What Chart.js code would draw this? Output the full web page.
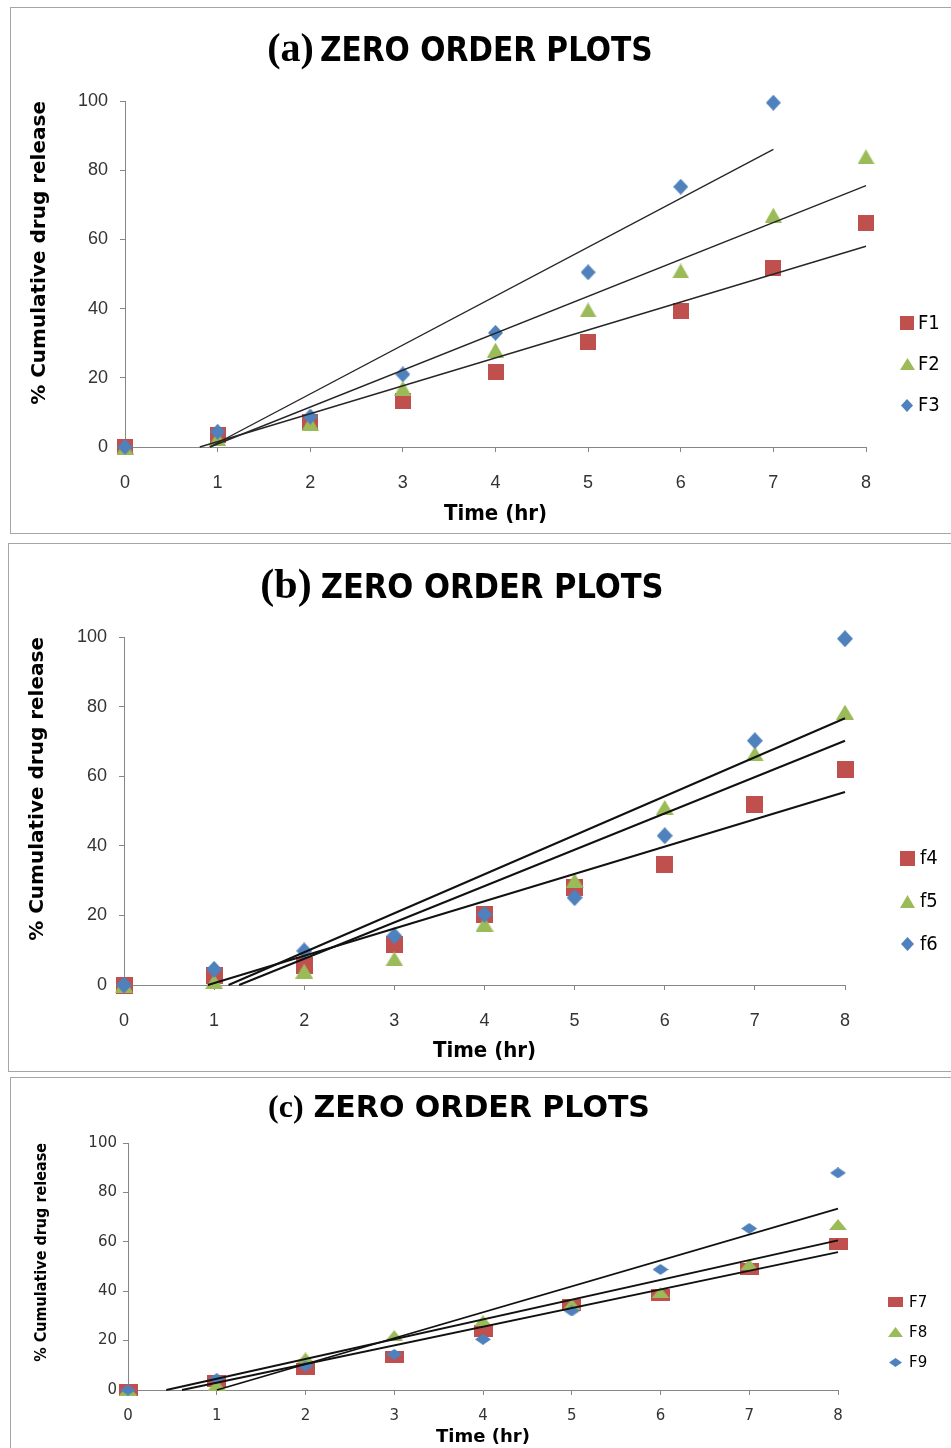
<!DOCTYPE html>
<html>
<head>
<meta charset="utf-8">
<title>Zero order plots</title>
<script src="https://cdn.jsdelivr.net/npm/chart.js@4.4.0/dist/chart.umd.min.js"></script>
<style>
	body { margin: 0; background: #fff; width: 951px; height: 1448px; overflow: hidden; position: relative; }
	.panel { position: absolute; border: 1px solid #a6a6a6; box-sizing: border-box; background: #fff; }
	.panel canvas { position: absolute; left: 0; top: 0; }
</style>
</head>
<body>
<div class="panel" style="left:10px;top:7px;width:945px;height:527px"><canvas id="chartA" width="939" height="525"></canvas></div>
<div class="panel" style="left:8px;top:543px;width:948px;height:529px"><canvas id="chartB" width="942" height="527"></canvas></div>
<div class="panel" style="left:10px;top:1077px;width:945px;height:380px"><canvas id="chartC" width="940" height="370"></canvas></div>
<script>
// tiempos de muestreo (hr)
const timeHr = [0, 1, 2, 3, 4, 5, 6, 7, 8];
const yTicks = [0, 20, 40, 60, 80, 100];

// (a) % liberación acumulada
const f1Release = [0, 3.4, 7.3, 13.4, 21.8, 30.4, 39.3, 51.6, 64.6];
const f2Release = [0, 2.5, 6.9, 17, 28, 39.6, 50.9, 67, 83.9];
const f3Release = [0, 4.4, 8.8, 21, 33, 50.5, 75.2, 99.5]; // sin punto a 8 hr

// (b)
const f4Release = [0, 2.6, 5.5, 11.7, 20.3, 28, 34.7, 52, 62];
const f5Release = [0, 1, 4, 7.5, 17.5, 30, 51, 66.4, 78.4];
const f6Release = [0, 4.5, 9.8, 14.1, 20.3, 25.1, 42.9, 70.2, 99.5];

// (c)
const f7Release = [0, 3.6, 8.6, 13.5, 24, 34.4, 38.4, 48.8, 59.3];
const f8Release = [0, 2, 13, 22, 28, 34.7, 39.4, 50.8, 67];
const f9Release = [0, 4.6, 9.7, 14.4, 20.5, 32, 48.8, 65.4, 87.9];

const RED = '#C0504D';
const GREEN = '#9BBB59';
const BLUE = '#4F81BD';

const NARROW = '"Liberation Sans Narrow", "DejaVu Sans Condensed", "Liberation Sans", sans-serif';
const SANS = '"Liberation Sans", Arial, sans-serif';
const VERD = '"DejaVu Sans", Verdana, sans-serif';
const SERIF = '"Liberation Serif", "DejaVu Serif", serif';

// marcador dibujado en un canvas pequeño (permite ancho y alto distintos)
function makeMarker(shape, w, h, color) {
	const c = document.createElement('canvas');
	c.width = w;
	c.height = h;
	const g = c.getContext('2d');
	g.fillStyle = color;
	g.beginPath();
	if (shape === 'square') {
		g.rect(0, 0, w, h);
	} else if (shape === 'triangle') {
		g.moveTo(w / 2, 0);
		g.lineTo(w, h);
		g.lineTo(0, h);
	} else {
		g.moveTo(w / 2, 0);
		g.lineTo(w, h / 2);
		g.lineTo(w / 2, h);
		g.lineTo(0, h / 2);
	}
	g.closePath();
	g.fill();
	return c;
}

// recta de mínimos cuadrados, recortada en y = 0
function trendPoints(ys) {
	const xs = timeHr.slice(0, ys.length);
	const n = ys.length;
	const mx = xs.reduce((a, b) => a + b, 0) / n;
	const my = ys.reduce((a, b) => a + b, 0) / n;
	let sxy = 0;
	let sxx = 0;
	for (let i = 0; i < n; i++) {
		sxy += (xs[i] - mx) * (ys[i] - my);
		sxx += (xs[i] - mx) * (xs[i] - mx);
	}
	const m = sxy / sxx;
	const b = my - m * mx;
	const x0 = Math.max(0, -b / m);
	const x1 = xs[n - 1];
	return [{ x: x0, y: m * x0 + b }, { x: x1, y: m * x1 + b }];
}

function toPoints(ys) {
	return ys.map((y, i) => ({ x: timeHr[i], y: y }));
}

const panelTitle = {
	id: 'panelTitle',
	afterDraw(chart, args, opts) {
		const ctx = chart.ctx;
		ctx.save();
		ctx.fillStyle = '#000';
		ctx.textBaseline = 'alphabetic';
		ctx.textAlign = 'left';
		ctx.font = opts.tagFont;
		const w1 = ctx.measureText(opts.tag).width;
		ctx.font = opts.font;
		const w2 = ctx.measureText(opts.text).width;
		const x0 = opts.cx - (w1 + opts.gap + w2) / 2;
		ctx.font = opts.tagFont;
		ctx.fillText(opts.tag, x0, opts.baseline);
		ctx.font = opts.font;
		ctx.fillText(opts.text, x0 + w1 + opts.gap, opts.baseline);
		ctx.restore();
	},
};

const sideLegend = {
	id: 'sideLegend',
	afterDraw(chart, args, opts) {
		const ctx = chart.ctx;
		ctx.save();
		ctx.font = opts.font;
		ctx.fillStyle = '#000';
		ctx.textBaseline = 'middle';
		ctx.textAlign = 'left';
		chart.data.datasets
			.filter((d) => d.legendMarker)
			.forEach((d, i) => {
				const y = opts.y + i * opts.gap;
				const m = d.legendMarker;
				ctx.drawImage(m, Math.round(opts.x - m.width / 2), Math.round(y - m.height / 2));
				ctx.fillText(d.label, opts.textX, y + 1);
			});
		ctx.restore();
	},
};

function makeChart(p) {
	const ctx = document.getElementById(p.canvas).getContext('2d');
	const datasets = [];
	p.series.forEach((s) => {
		datasets.push({
			label: s.label + ' trend',
			data: trendPoints(s.values),
			showLine: true,
			borderColor: p.lineColor,
			borderWidth: p.lineWidth,
			pointRadius: 0,
			fill: false,
			order: 0,
			clip: false,
		});
	});
	p.series.forEach((s, i) => {
		datasets.push({
			label: s.label,
			data: toPoints(s.values),
			showLine: false,
			pointStyle: makeMarker(s.shape, s.size[0], s.size[1], s.color),
			legendMarker: makeMarker(s.shape, s.legendSize[0], s.legendSize[1], s.color),
			pointRadius: 8,
			pointBorderWidth: 0,
			backgroundColor: s.color,
			borderColor: s.color,
			order: 3 - i,
			clip: false,
		});
	});

	return new Chart(ctx, {
		type: 'scatter',
		data: { datasets: datasets },
		options: {
			responsive: false,
			animation: false,
			devicePixelRatio: 1,
			events: [],
			layout: { padding: { top: p.padTop, right: p.padRight, left: 0, bottom: 0 } },
			scales: {
				x: {
					type: 'linear',
					min: 0,
					max: 8,
					afterFit: (scale) => {
						scale.height = p.xHeight;
					},
					afterBuildTicks: (scale) => {
						scale.ticks = timeHr.map((v) => ({ value: v }));
					},
					grid: { drawOnChartArea: false, drawTicks: true, tickLength: 5, color: '#868686' },
					border: { display: true, color: '#868686', width: 1 },
					ticks: { font: p.tickFont, color: '#333', padding: p.xTickPad, maxRotation: 0 },
					title: {
						display: true,
						text: 'Time (hr)',
						font: p.xTitleFont,
						color: '#000',
						padding: { top: 0, bottom: p.xTitlePad },
					},
				},
				y: {
					type: 'linear',
					min: 0,
					max: 100,
					afterFit: (scale) => {
						scale.width = p.yWidth;
					},
					afterBuildTicks: (scale) => {
						scale.ticks = yTicks.map((v) => ({ value: v }));
					},
					grid: { drawOnChartArea: false, drawTicks: true, tickLength: 5, color: '#868686' },
					border: { display: true, color: '#868686', width: 1 },
					ticks: { font: p.tickFont, color: '#333', padding: p.yTickPad },
					title: {
						display: true,
						text: '% Cumulative drug release',
						align: 'end',
						font: p.yTitleFont,
						color: '#000',
						padding: { top: p.yTitlePad, bottom: 0 },
					},
				},
			},
			plugins: {
				legend: { display: false },
				tooltip: { enabled: false },
				title: { display: false },
				panelTitle: p.title,
				sideLegend: p.legend,
			},
		},
		plugins: [panelTitle, sideLegend],
	});
}

// (a)
makeChart({
	canvas: 'chartA',
	series: [
		{ label: 'F1', values: f1Release, shape: 'square', color: RED, size: [16, 16], legendSize: [14, 14] },
		{ label: 'F2', values: f2Release, shape: 'triangle', color: GREEN, size: [17, 15], legendSize: [15, 12] },
		{ label: 'F3', values: f3Release, shape: 'diamond', color: BLUE, size: [15, 16], legendSize: [12, 13] },
	],
	lineColor: '#262626',
	lineWidth: 1.4,
	padTop: 93,
	padRight: 84,
	yWidth: 114,
	xHeight: 86,
	tickFont: { family: SANS, size: 18 },
	xTickPad: 20,
	yTickPad: 12,
	xTitleFont: { family: NARROW, size: 22, weight: 'bold' },
	xTitlePad: 6,
	yTitleFont: { family: VERD, size: 20, weight: 'bold' },
	yTitlePad: 17,
	title: { tag: '(a)', text: 'ZERO ORDER PLOTS', tagFont: 'bold 40px ' + SERIF, font: 'bold 33px ' + NARROW, gap: 6, cx: 449, baseline: 53 },
	legend: { x: 896, textX: 907, y: 315, gap: 41, font: '20px ' + NARROW },
});

// (b)
makeChart({
	canvas: 'chartB',
	series: [
		{ label: 'f4', values: f4Release, shape: 'square', color: RED, size: [17, 17], legendSize: [15, 15] },
		{ label: 'f5', values: f5Release, shape: 'triangle', color: GREEN, size: [18, 15], legendSize: [15, 13] },
		{ label: 'f6', values: f6Release, shape: 'diamond', color: BLUE, size: [16, 17], legendSize: [13, 14] },
	],
	lineColor: '#111',
	lineWidth: 2,
	padTop: 93,
	padRight: 106,
	yWidth: 115,
	xHeight: 86,
	tickFont: { family: SANS, size: 18 },
	xTickPad: 20,
	yTickPad: 12,
	xTitleFont: { family: NARROW, size: 22, weight: 'bold' },
	xTitlePad: 7,
	yTitleFont: { family: VERD, size: 20, weight: 'bold' },
	yTitlePad: 17,
	title: { tag: '(b)', text: 'ZERO ORDER PLOTS', tagFont: 'bold 42px ' + SERIF, font: 'bold 34px ' + NARROW, gap: 9, cx: 453, baseline: 54 },
	legend: { x: 898, textX: 911, y: 314, gap: 43, font: '20px ' + NARROW },
});

// (c)
makeChart({
	canvas: 'chartC',
	series: [
		{ label: 'F7', values: f7Release, shape: 'square', color: RED, size: [19, 12], legendSize: [15, 10] },
		{ label: 'F8', values: f8Release, shape: 'triangle', color: GREEN, size: [18, 11], legendSize: [15, 10] },
		{ label: 'F9', values: f9Release, shape: 'diamond', color: BLUE, size: [16, 11], legendSize: [13, 9] },
	],
	lineColor: '#111',
	lineWidth: 1.8,
	padTop: 65,
	padRight: 113,
	yWidth: 117,
	xHeight: 58,
	tickFont: { family: VERD, size: 15 },
	xTickPad: 12,
	yTickPad: 6,
	xTitleFont: { family: VERD, size: 18, weight: 'bold' },
	xTitlePad: 0,
	yTitleFont: { family: NARROW, size: 16, weight: 'bold' },
	yTitlePad: 21,
	title: { tag: '(c)', text: 'ZERO ORDER PLOTS', tagFont: 'bold 32px ' + SERIF, font: 'bold 30px ' + VERD, gap: 10, cx: 448, baseline: 39 },
	legend: { x: 884, textX: 898, y: 224, gap: 30, font: '15px ' + VERD },
});
</script>
</body>
</html>
